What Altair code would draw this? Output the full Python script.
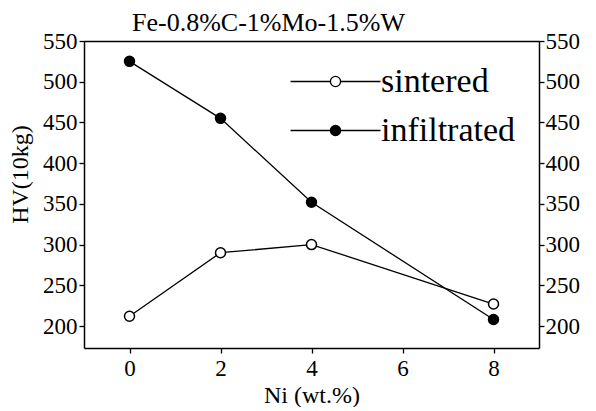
import altair as alt
import pandas as pd

ni = [0, 2, 4, 8]
sintered = [212, 290, 300, 227]
infiltrated = [525, 455, 352, 208]
series_names = ["sintered", "infiltrated"]
y_ticks = [200, 250, 300, 350, 400, 450, 500, 550]
x_ticks = [0, 2, 4, 6, 8]

rows = []
for name, vals in zip(series_names, [sintered, infiltrated]):
    for x, v in zip(ni, vals):
        rows.append({"Ni": x, "HV": v, "series": name})
df = pd.DataFrame(rows)

FONT = "Liberation Serif, Times New Roman, serif"
xs = alt.Scale(domain=[-1, 9], nice=False)
ys = alt.Scale(domain=[173, 550], nice=False, zero=False)

sym = "M-2.57,0H-0.29M0.29,0H2.57M0.29,0A0.29,0.29,0,1,1,-0.29,0A0.29,0.29,0,1,1,0.29,0Z"

base = alt.Chart(df)

lines = base.mark_line(color="black", strokeWidth=1.3).encode(
    x=alt.X("Ni:Q", scale=xs, title="Ni (wt.%)",
            axis=alt.Axis(values=x_ticks, grid=False, domainColor="black",
                          tickColor="black", tickSize=5, labelFontSize=23, titleFontSize=24,
                          labelFont=FONT, titleFont=FONT,
                          labelColor="black", titleColor="black", titlePadding=3, labelPadding=4)),
    y=alt.Y("HV:Q", scale=ys, title="HV(10kg)",
            axis=alt.Axis(values=y_ticks, grid=False,
                          domainColor="black", tickColor="black", tickSize=5,
                          labelFontSize=23, titleFontSize=24, labelFont=FONT, titleFont=FONT,
                          labelColor="black", titleColor="black",
                          titlePadding=10, labelPadding=2, titleY=133)),
    detail="series:N",
)

points = base.mark_point(shape="circle", size=100, strokeWidth=1.5, stroke="black", opacity=1).encode(
    x=alt.X("Ni:Q", scale=xs),
    y=alt.Y("HV:Q", scale=ys),
    fill=alt.Fill("series:N",
                  scale=alt.Scale(domain=series_names, range=["white", "black"]),
                  legend=alt.Legend(title=None, orient="none", legendX=233, legendY=22,
                                    symbolType=sym, symbolSize=1225, symbolStrokeColor="black",
                                    symbolStrokeWidth=1.3, labelFontSize=34, labelFont=FONT,
                                    labelColor="black", labelOffset=27, rowPadding=13,
                                    symbolOpacity=1)),
)

right = base.mark_point(opacity=0).encode(
    x=alt.X("Ni:Q", scale=xs, axis=alt.Axis(orient="top", values=x_ticks, labels=False,
                                           ticks=False, grid=False, title=None,
                                           domainColor="black")),
    y=alt.Y("HV:Q", scale=ys,
            axis=alt.Axis(orient="right", values=y_ticks,
                          grid=False, title=None, domainColor="black", tickColor="black",
                          tickSize=5, labelFontSize=23, labelFont=FONT, labelColor="black",
                          labelPadding=1)),
)

main = alt.layer(lines, points)
chart = alt.layer(main, right).resolve_scale(x="independent", y="independent").properties(
    width=455, height=307,
    title=alt.TitleParams("Fe-0.8%C-1%Mo-1.5%W", fontSize=26, fontWeight="normal", font=FONT,
                          color="black", offset=-6, frame="group", anchor="middle", dx=-43),
    padding={"left": 0, "top": 2, "right": 0, "bottom": 0},
).configure(font=FONT).configure_view(stroke=None).configure_axis(
    domainWidth=1.5, tickWidth=1.3, labelFont=FONT, titleFont=FONT, titleFontWeight="normal"
).configure_legend(labelFont=FONT).configure_title(font=FONT)

chart.save("out.html", embed_options={"renderer": "svg", "actions": False})
